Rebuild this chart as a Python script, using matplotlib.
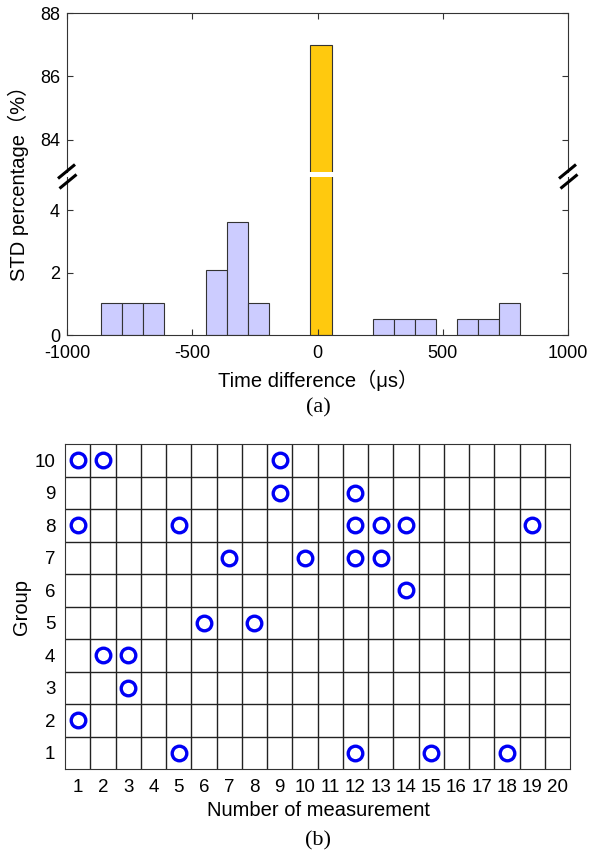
import matplotlib.pyplot as plt
from matplotlib.lines import Line2D
import numpy as np

plt.rcParams['font.family'] = ['Liberation Sans', 'Noto Sans CJK SC', 'DejaVu Sans']
plt.rcParams['axes.unicode_minus'] = False

# (a) time difference histogram
bin_centers = [-824, -740, -656, -405, -321, -237, 14, 265, 349, 433, 600, 684, 768]
std_pct = [1.04, 1.04, 1.04, 2.08, 3.62, 1.04, 87.0, 0.52, 0.52, 0.52, 0.52, 0.52, 1.04]
bin_width = 84

# (b) measurement / group occurrences
meas_no = [1, 2, 9, 9, 12, 1, 5, 12, 13, 14, 19, 7, 10, 12, 13, 14, 6, 8, 2, 3, 3, 1, 5, 12, 15, 18]
group_no = [10, 10, 10, 9, 9, 8, 8, 8, 8, 8, 8, 7, 7, 7, 7, 6, 5, 5, 4, 4, 3, 2, 1, 1, 1, 1]

W, H = 590, 859
fig = plt.figure(figsize=(W / 100, H / 100), dpi=100)

def box(l, t, r, b):
    return [l / W, 1 - b / H, (r - l) / W, (b - t) / H]

axc = '#333333'
colors = ['#FFC90E' if v > 50 else '#CCCCFF' for v in std_pct]

ax_hi = fig.add_axes(box(67, 13, 568, 171.5))
ax_lo = fig.add_axes(box(67, 177.5, 568, 335))

for ax in (ax_hi, ax_lo):
    ax.bar(bin_centers, std_pct, width=bin_width, color=colors,
           edgecolor='#333333', linewidth=0.8)
    ax.set_xlim(-1000, 1000)
    ax.set_xticks([-1000, -500, 0, 500, 1000])
    for s in ax.spines.values():
        s.set_color(axc)
    ax.tick_params(direction='in', length=4, color=axc, labelsize=13, pad=5,
                   right=True, top=True)

ax_hi.set_ylim(83.0, 88)
ax_hi.set_yticks([84, 86, 88])
ax_hi.spines['bottom'].set_visible(False)
ax_hi.tick_params(bottom=False, labelbottom=False)

ax_lo.set_ylim(0, 5.05)
ax_lo.set_yticks([0, 2, 4])
ax_lo.spines['top'].set_visible(False)
ax_lo.tick_params(top=False)
ax_lo.tick_params(axis='x', pad=7)

# break marks
for dx in (0, 501):
    for (x0, y0, x1, y1) in [(58, 178.5, 75, 164.5), (59.5, 188.5, 76.5, 174.5)]:
        fig.add_artist(Line2D([(x0 + dx) / W, (x1 + dx) / W],
                              [1 - y0 / H, 1 - y1 / H],
                              color='k', lw=2.2, solid_capstyle='butt'))

fig.text(18 / W, 1 - 178 / H, 'STD percentage（%）', rotation=90,
         ha='center', va='center', fontsize=14.5)
fig.text(318 / W, 1 - 380 / H, 'Time difference（μs）',
         ha='center', va='center', fontsize=14.5)
fig.text(318 / W, 1 - 408 / H, '(a)', ha='center', va='center',
         fontsize=16, family='Liberation Serif')

# (b)
ax_b = fig.add_axes(box(65, 444, 570, 769))
ax_b.plot(meas_no, group_no, 'o', color='#0000F5', markerfacecolor='none',
          markersize=10.5, markeredgewidth=2.4, clip_on=False)
ax_b.set_xlim(0.5, 20.5)
ax_b.set_ylim(0.5, 10.5)
ax_b.set_xticks(np.arange(1, 21))
ax_b.set_yticks(np.arange(1, 11))
ax_b.set_xticks(np.arange(1.5, 20.5, 1), minor=True)
ax_b.set_yticks(np.arange(1.5, 10.5, 1), minor=True)
ax_b.grid(which='minor', color='#222222', linewidth=1)
ax_b.set_axisbelow(True)
ax_b.tick_params(which='both', length=0, labelsize=13.5, pad=7)
for s in ax_b.spines.values():
    s.set_color(axc)

fig.text(22 / W, 1 - 607 / H, 'Group', rotation=90,
         ha='center', va='center', fontsize=14.5)
fig.text(318 / W, 1 - 811 / H, 'Number of measurement',
         ha='center', va='center', fontsize=14.5)
fig.text(318 / W, 1 - 841 / H, '(b)', ha='center', va='center',
         fontsize=16, family='Liberation Serif')

fig.savefig('out.png', dpi=100)
